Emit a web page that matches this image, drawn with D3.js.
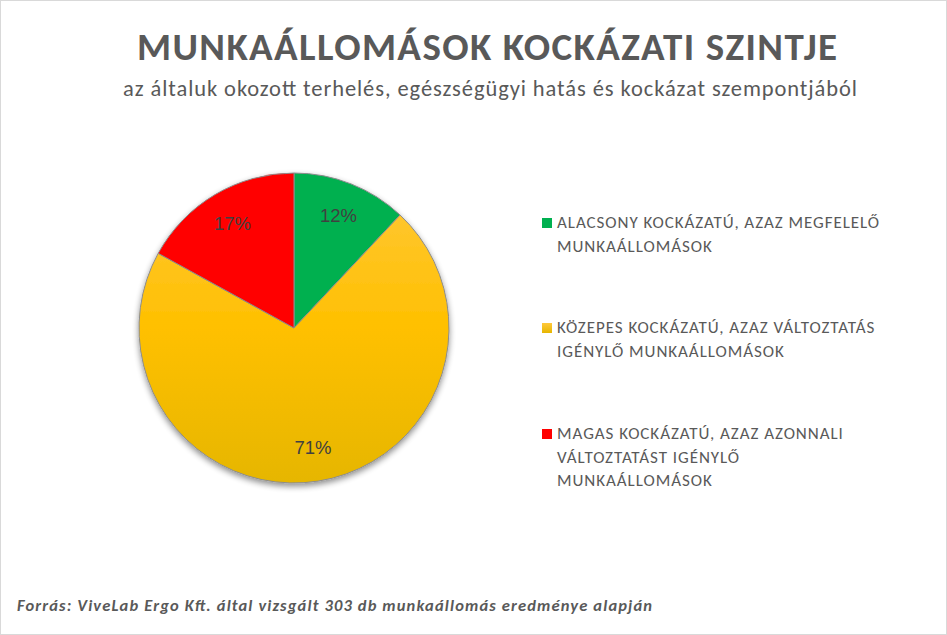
<!DOCTYPE html>
<html>
<head>
<meta charset="utf-8">
<script src="https://cdn.jsdelivr.net/npm/d3@7"></script>
<style>
  body { margin: 0; background: #fff; }
  svg { display: block; }
</style>
</head>
<body>
<div id="chart"></div>
<script>
// data
var categories = [
  "ALACSONY KOCKÁZATÚ, AZAZ MEGFELELŐ MUNKAÁLLOMÁSOK",
  "KÖZEPES KOCKÁZATÚ, AZAZ VÁLTOZTATÁS IGÉNYLŐ MUNKAÁLLOMÁSOK",
  "MAGAS KOCKÁZATÚ, AZAZ AZONNALI VÁLTOZTATÁST IGÉNYLŐ MUNKAÁLLOMÁSOK"
];
var legendLines = [
  ["ALACSONY KOCKÁZATÚ, AZAZ MEGFELELŐ", "MUNKAÁLLOMÁSOK"],
  ["KÖZEPES KOCKÁZATÚ, AZAZ VÁLTOZTATÁS", "IGÉNYLŐ MUNKAÁLLOMÁSOK"],
  ["MAGAS KOCKÁZATÚ, AZAZ AZONNALI", "VÁLTOZTATÁST IGÉNYLŐ", "MUNKAÁLLOMÁSOK"]
];
var values = [12, 71, 17];
var colors = ["#00b050", "url(#yellowGrad)", "#ff0000"];
var legendColors = ["#00b050", "url(#yellowGradSmall)", "#ff0000"];

var title = "MUNKAÁLLOMÁSOK KOCKÁZATI SZINTJE";
var subtitle = "az általuk okozott terhelés, egészségügyi hatás és kockázat szempontjából";
var source = "Forrás:  ViveLab Ergo Kft. által vizsgált 303 db munkaállomás eredménye alapján";

var width = 947;
var height = 635;
var font = "Carlito, Calibri, Lato, 'Open Sans', sans-serif";
var textColor = "#595959";

var svg = d3.select("#chart")
  .append("svg")
  .attr("width", width)
  .attr("height", height);

var defs = svg.append("defs");

var grad = defs.append("linearGradient")
  .attr("id", "yellowGrad")
  .attr("gradientUnits", "userSpaceOnUse")
  .attr("x1", 0).attr("y1", -155)
  .attr("x2", 0).attr("y2", 155);
grad.append("stop").attr("offset", "0%").attr("stop-color", "#ffc83c");
grad.append("stop").attr("offset", "50%").attr("stop-color", "#ffc000");
grad.append("stop").attr("offset", "100%").attr("stop-color", "#e6b600");

var gradS = defs.append("linearGradient")
  .attr("id", "yellowGradSmall")
  .attr("x1", 0).attr("y1", 0)
  .attr("x2", 0).attr("y2", 1);
gradS.append("stop").attr("offset", "0%").attr("stop-color", "#ffc83c");
gradS.append("stop").attr("offset", "100%").attr("stop-color", "#e6b600");

var shadow = defs.append("filter")
  .attr("id", "shadow")
  .attr("x", "-20%").attr("y", "-20%")
  .attr("width", "140%").attr("height", "140%");
shadow.append("feGaussianBlur").attr("in", "SourceAlpha").attr("stdDeviation", 3);
shadow.append("feOffset").attr("dx", 0).attr("dy", 3).attr("result", "off");
shadow.append("feComponentTransfer").append("feFuncA").attr("type", "linear").attr("slope", 0.45);
var merge = shadow.append("feMerge");
merge.append("feMergeNode");
merge.append("feMergeNode").attr("in", "SourceGraphic");

// border
svg.append("rect")
  .attr("x", 0.5).attr("y", 0.5)
  .attr("width", width - 1).attr("height", height - 1)
  .attr("fill", "#fff")
  .attr("stroke", "#d9d9d9");

// titles
svg.append("text")
  .attr("x", 137).attr("y", 60)
  .attr("textLength", 700)
  .attr("lengthAdjust", "spacing")
  .style("font-family", font)
  .style("font-weight", "bold")
  .style("font-size", "39px")
  .attr("fill", textColor)
  .text(title);

svg.append("text")
  .attr("x", 123).attr("y", 96)
  .attr("textLength", 734)
  .attr("lengthAdjust", "spacing")
  .style("font-family", font)
  .style("font-size", "22.5px")
  .attr("fill", textColor)
  .text(subtitle);

// pie
var radius = 155;
var cx = 294, cy = 328;

var pie = d3.pie().sort(null).value(d => d);
var arc = d3.arc().innerRadius(0).outerRadius(radius);
var labelArc = d3.arc().innerRadius(radius * 0.78).outerRadius(radius * 0.78);

var g = svg.append("g")
  .attr("transform", `translate(${cx}, ${cy})`);

var slices = g.append("g").attr("filter", "url(#shadow)");
slices.selectAll("path")
  .data(pie(values)).enter()
  .append("path")
  .attr("d", arc)
  .attr("fill", (d, i) => colors[i])
  .attr("stroke", "#8c8c8c")
  .attr("stroke-width", 1);

g.selectAll(".label")
  .data(pie(values)).enter()
  .append("text")
  .attr("class", "label")
  .attr("transform", d => `translate(${labelArc.centroid(d)})`)
  .attr("text-anchor", "middle")
  .attr("dy", "0.35em")
  .style("font-family", "'Liberation Sans', Arial, sans-serif")
  .style("font-size", "18.5px")
  .attr("fill", "#404040")
  .text(d => d.data + "%");

// legend
var legendTop = [228, 333, 439];
var legend = svg.append("g");
legendLines.forEach(function(lines, i) {
  legend.append("rect")
    .attr("x", 542).attr("y", legendTop[i] - 10)
    .attr("width", 10).attr("height", 10)
    .attr("fill", legendColors[i])
    .append("title").text(categories[i]);
  lines.forEach(function(line, j) {
    legend.append("text")
      .attr("x", 557).attr("y", legendTop[i] + j * 23.5)
      .style("font-family", font)
      .style("font-size", "17px")
      .style("letter-spacing", "0.95px")
      .attr("fill", textColor)
      .text(line);
  });
});

// footer
svg.append("text")
  .attr("x", 17).attr("y", 611)
  .attr("textLength", 635)
  .attr("lengthAdjust", "spacing")
  .style("font-family", font)
  .style("font-size", "16.5px")
  .style("font-weight", "bold")
  .style("font-style", "italic")
  .attr("fill", textColor)
  .text(source);
</script>
</body>
</html>
